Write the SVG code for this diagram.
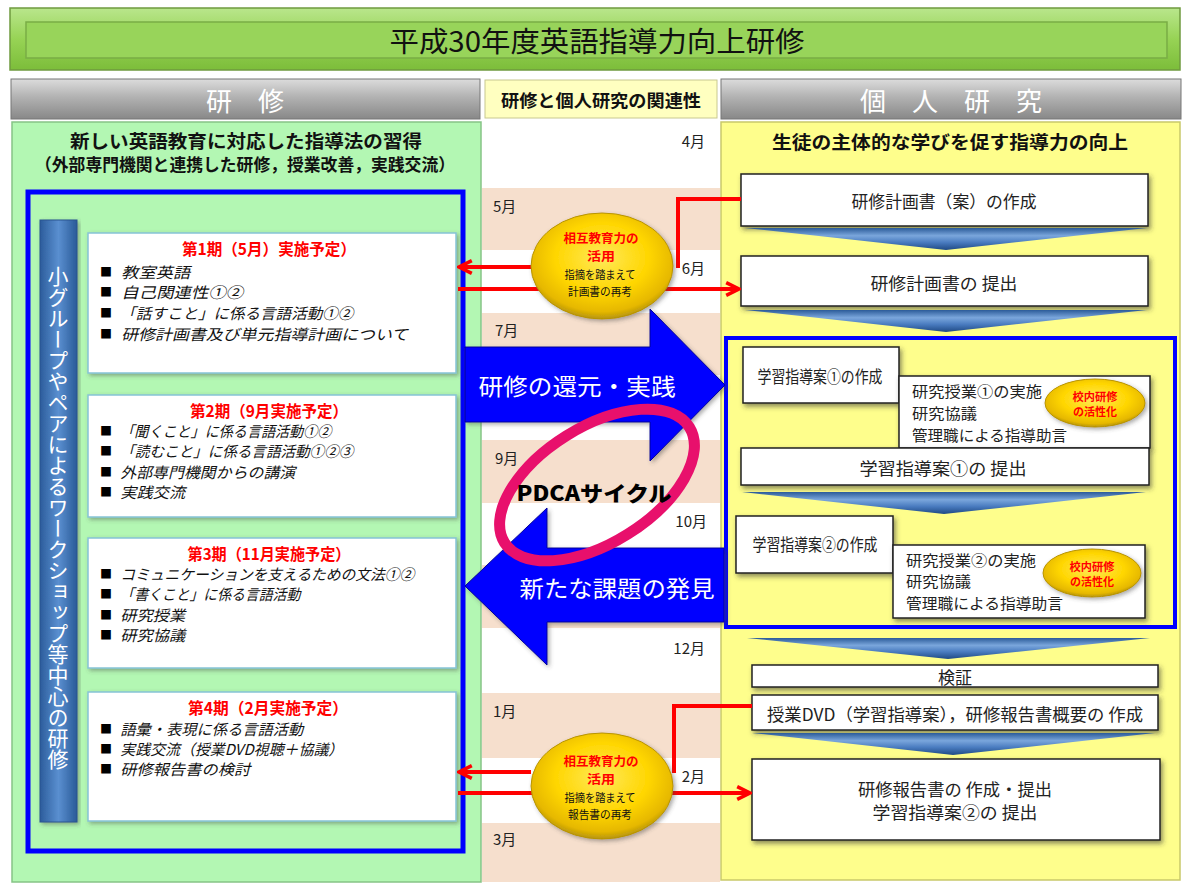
<svg xmlns="http://www.w3.org/2000/svg" width="1184" height="885" viewBox="0 0 1184 885">
<defs>
<style>
text{font-family:"Noto Sans CJK JP","Noto Sans CJK SC",sans-serif;dominant-baseline:central;}
.box{fill:#fff;stroke:#222;stroke-width:1.5;filter:url(#sh);}
.blk{fill:#fff;stroke:#86c3d6;stroke-width:1.5;filter:url(#sh2);}
.item{font-size:15px;fill:#111;}
.bul{font-size:12px;fill:#000;}
.bt{font-size:16px;font-weight:bold;fill:#ff0000;text-anchor:middle;}
.mon{font-size:15px;fill:#222;}
.monr{font-size:15px;fill:#222;text-anchor:end;}
.bx{font-size:17px;fill:#222;text-anchor:middle;}
.bxl{font-size:15px;fill:#222;}
.red{stroke:#ff0000;stroke-width:4;fill:none;}
.chev{fill:url(#chevG);}
.peach{fill:#f6dfcd;}
.ell{fill:url(#goldG);stroke:#b89400;stroke-width:1;filter:url(#sh2);}
.er{font-weight:bold;fill:#ff0000;text-anchor:middle;}
.ek{fill:#111;text-anchor:middle;}
</style>
<linearGradient id="greenG" x1="0" y1="0" x2="0" y2="1">
<stop offset="0" stop-color="#b9e68c"/><stop offset="0.5" stop-color="#97d355"/><stop offset="1" stop-color="#7cbd3a"/>
</linearGradient>
<linearGradient id="grayG" x1="0" y1="0" x2="0" y2="1">
<stop offset="0" stop-color="#dcdcdc"/><stop offset="0.45" stop-color="#b2b2b2"/><stop offset="1" stop-color="#888"/>
</linearGradient>
<linearGradient id="barG" x1="0" y1="0" x2="1" y2="0">
<stop offset="0" stop-color="#2c5d9c"/><stop offset="0.5" stop-color="#5a8fd0"/><stop offset="1" stop-color="#2a5a98"/>
</linearGradient>
<linearGradient id="chevG" x1="0" y1="0" x2="0" y2="1">
<stop offset="0" stop-color="#2b5b99"/><stop offset="0.35" stop-color="#7aa6dc"/><stop offset="0.65" stop-color="#4a7cc0"/><stop offset="1" stop-color="#1f4a85"/>
</linearGradient>
<radialGradient id="goldG" cx="0.5" cy="0.42" r="0.6">
<stop offset="0" stop-color="#ffe95a"/><stop offset="0.55" stop-color="#ffd600"/><stop offset="0.85" stop-color="#e6b800"/><stop offset="1" stop-color="#a88a10"/>
</radialGradient>
<filter id="sh" x="-10%" y="-20%" width="120%" height="150%">
<feDropShadow dx="2" dy="3" stdDeviation="2.5" flood-color="#333" flood-opacity="0.55"/>
</filter>
<filter id="sh2" x="-10%" y="-20%" width="120%" height="150%">
<feDropShadow dx="2" dy="2" stdDeviation="2" flood-color="#444" flood-opacity="0.45"/>
</filter>
<marker id="ah" viewBox="0 0 10 10" refX="9" refY="5" markerWidth="4" markerHeight="4" orient="auto" markerUnits="strokeWidth">
<path d="M1,1 L9,5 L1,9" fill="none" stroke="#ff0000" stroke-width="2.2"/>
</marker>
</defs>

<rect width="1184" height="885" fill="#fff"/>

<g id="title">
<rect x="10" y="8" width="1170" height="62" fill="url(#greenG)" stroke="#6f9a3f" stroke-width="1.5"/>
<rect x="26" y="22" width="1141" height="36" fill="#98d45a" stroke="#79ad45" stroke-width="1.5"/>
<text x="597" y="40" font-size="28" text-anchor="middle" fill="#111" textLength="415" lengthAdjust="spacingAndGlyphs">平成30年度英語指導力向上研修</text>
</g>

<g id="header-left">
<rect x="11" y="79" width="469" height="40" fill="url(#grayG)" stroke="#777" stroke-width="1"/>
<text x="245" y="99" font-size="26" text-anchor="middle" fill="#fff">研　修</text>
</g>
<g id="header-mid">
<rect x="485" y="80" width="232" height="38" fill="#ffffc0" stroke="#c8c890" stroke-width="1"/>
<text x="601" y="99" font-size="17" font-weight="bold" text-anchor="middle" fill="#111" textLength="200" lengthAdjust="spacingAndGlyphs">研修と個人研究の関連性</text>
</g>
<g id="header-right">
<rect x="721" y="79" width="460" height="40" fill="url(#grayG)" stroke="#777" stroke-width="1"/>
<text x="951" y="99" font-size="26" text-anchor="middle" fill="#fff">個　人　研　究</text>
</g>

<g id="timeline">
<rect x="482" y="122" width="238" height="760" fill="#fff"/>
<rect class="peach" x="482" y="188" width="238" height="62"/>
<rect class="peach" x="482" y="313" width="238" height="62"/>
<rect class="peach" x="482" y="440" width="238" height="63"/>
<rect class="peach" x="482" y="565" width="238" height="63"/>
<rect class="peach" x="482" y="693" width="238" height="65"/>
<rect class="peach" x="482" y="823" width="238" height="59"/>
<text class="monr" x="705" y="140">4月</text>
<text class="mon" x="493" y="205">5月</text>
<text class="monr" x="705" y="267">6月</text>
<text class="mon" x="495" y="329">7月</text>
<text class="mon" x="495" y="457">9月</text>
<text class="monr" x="707" y="520">10月</text>
<text class="monr" x="705" y="647">12月</text>
<text class="mon" x="493" y="710">1月</text>
<text class="monr" x="705" y="775">2月</text>
<text class="mon" x="493" y="838">3月</text>
</g>

<g id="panel-left">
<rect x="12" y="122" width="469" height="760" fill="#b3f7b3" stroke="#86c486" stroke-width="1.5"/>
<text x="246" y="140" font-size="18" font-weight="bold" text-anchor="middle" fill="#111" textLength="352" lengthAdjust="spacingAndGlyphs">新しい英語教育に対応した指導法の習得</text>
<text x="245" y="163" font-size="17" font-weight="bold" text-anchor="middle" fill="#111" textLength="420" lengthAdjust="spacingAndGlyphs">（外部専門機関と連携した研修，授業改善，実践交流）</text>
<rect x="28" y="192" width="435" height="659" fill="none" stroke="#0000ff" stroke-width="5"/>
</g>

<g id="side-bar">
<rect x="40" y="220" width="37" height="602" fill="url(#barG)" stroke="#2a5590" stroke-width="1" filter="url(#sh2)"/>
<text x="58" y="266" font-size="21" fill="#fff" style="writing-mode:vertical-rl">小グループやペアによるワークショップ等中心の研修</text>
</g>

<g id="block1">
<rect class="blk" x="88" y="233" width="368" height="140"/>
<text class="bt" x="269" y="248" textLength="174" lengthAdjust="spacingAndGlyphs">第1期（5月）実施予定）</text>
<text class="bul" x="100" y="271">■</text><text class="item" transform="translate(123,271) skewX(-14)" textLength="69" lengthAdjust="spacingAndGlyphs">教室英語</text>
<text class="bul" x="100" y="291">■</text><text class="item" transform="translate(123,291) skewX(-14)" textLength="122" lengthAdjust="spacingAndGlyphs">自己関連性①②</text>
<text class="bul" x="100" y="312">■</text><text class="item" transform="translate(122,312) skewX(-14)" textLength="233" lengthAdjust="spacingAndGlyphs">「話すこと」に係る言語活動①②</text>
<text class="bul" x="100" y="333">■</text><text class="item" transform="translate(123,333) skewX(-14)" textLength="287" lengthAdjust="spacingAndGlyphs">研修計画書及び単元指導計画について</text>
</g>

<g id="block2">
<rect class="blk" x="88" y="395" width="368" height="122"/>
<text class="bt" x="269" y="410" textLength="158" lengthAdjust="spacingAndGlyphs">第2期（9月実施予定）</text>
<text class="bul" x="100" y="430">■</text><text class="item" transform="translate(122,430) skewX(-14)" textLength="211" lengthAdjust="spacingAndGlyphs">「聞くこと」に係る言語活動①②</text>
<text class="bul" x="100" y="450">■</text><text class="item" transform="translate(122,450) skewX(-14)" textLength="233" lengthAdjust="spacingAndGlyphs">「読むこと」に係る言語活動①②③</text>
<text class="bul" x="100" y="471">■</text><text class="item" transform="translate(122,471) skewX(-14)" textLength="175" lengthAdjust="spacingAndGlyphs">外部専門機関からの講演</text>
<text class="bul" x="100" y="491">■</text><text class="item" transform="translate(122,491) skewX(-14)" textLength="65" lengthAdjust="spacingAndGlyphs">実践交流</text>
</g>

<g id="block3">
<rect class="blk" x="88" y="538" width="368" height="130"/>
<text class="bt" x="269" y="553" textLength="163" lengthAdjust="spacingAndGlyphs">第3期（11月実施予定）</text>
<text class="bul" x="100" y="573">■</text><text class="item" transform="translate(122,573) skewX(-14)" textLength="294" lengthAdjust="spacingAndGlyphs">コミュニケーションを支えるための文法①②</text>
<text class="bul" x="100" y="593">■</text><text class="item" transform="translate(122,593) skewX(-14)" textLength="180" lengthAdjust="spacingAndGlyphs">「書くこと」に係る言語活動</text>
<text class="bul" x="100" y="614">■</text><text class="item" transform="translate(122,614) skewX(-14)" textLength="65" lengthAdjust="spacingAndGlyphs">研究授業</text>
<text class="bul" x="100" y="634">■</text><text class="item" transform="translate(122,634) skewX(-14)" textLength="65" lengthAdjust="spacingAndGlyphs">研究協議</text>
</g>

<g id="block4">
<rect class="blk" x="88" y="692" width="368" height="129"/>
<text class="bt" x="268" y="707" textLength="160" lengthAdjust="spacingAndGlyphs">第4期（2月実施予定）</text>
<text class="bul" x="100" y="728">■</text><text class="item" transform="translate(122,728) skewX(-14)" textLength="183" lengthAdjust="spacingAndGlyphs">語彙・表現に係る言語活動</text>
<text class="bul" x="100" y="748">■</text><text class="item" transform="translate(122,748) skewX(-14)" textLength="223" lengthAdjust="spacingAndGlyphs">実践交流（授業DVD視聴＋協議）</text>
<text class="bul" x="100" y="768">■</text><text class="item" transform="translate(122,768) skewX(-14)" textLength="130" lengthAdjust="spacingAndGlyphs">研修報告書の検討</text>
</g>

<g id="panel-right">
<rect x="721" y="122" width="459" height="758" fill="#fefe8c" stroke="#c9c96a" stroke-width="1.5"/>
<text x="950" y="141" font-size="18" font-weight="bold" text-anchor="middle" fill="#111" textLength="356" lengthAdjust="spacingAndGlyphs">生徒の主体的な学びを促す指導力の向上</text>
<rect x="726" y="338" width="449" height="289" fill="none" stroke="#0000ff" stroke-width="4"/>
</g>

<g id="plan-draft">
<rect class="box" x="741" y="174" width="407" height="52"/>
<text class="bx" x="944" y="200" textLength="185" lengthAdjust="spacingAndGlyphs">研修計画書（案）の作成</text>
</g>
<g id="plan-submit">
<rect class="box" x="741" y="256" width="407" height="50"/>
<text class="bx" x="944" y="282" textLength="147" lengthAdjust="spacingAndGlyphs">研修計画書の 提出</text>
</g>
<g id="lesson1-make">
<rect class="box" x="743" y="347" width="156" height="56"/>
<text class="bx" x="820" y="375" font-size="16" textLength="125" lengthAdjust="spacingAndGlyphs">学習指導案①の作成</text>
</g>
<g id="lesson1-research">
<rect class="box" x="899" y="376" width="251" height="72"/>
<text class="bxl" x="912" y="390" textLength="130" lengthAdjust="spacingAndGlyphs">研究授業①の実施</text>
<text class="bxl" x="912" y="412" textLength="65" lengthAdjust="spacingAndGlyphs">研究協議</text>
<text class="bxl" x="912" y="434" textLength="155" lengthAdjust="spacingAndGlyphs">管理職による指導助言</text>
</g>
<g id="lesson1-submit">
<rect class="box" x="741" y="448" width="408" height="37"/>
<text class="bx" x="943" y="467" textLength="167" lengthAdjust="spacingAndGlyphs">学習指導案①の 提出</text>
</g>
<g id="lesson2-make">
<rect class="box" x="736" y="516" width="157" height="57"/>
<text class="bx" x="815" y="543" font-size="16" textLength="125" lengthAdjust="spacingAndGlyphs">学習指導案②の作成</text>
</g>
<g id="lesson2-research">
<rect class="box" x="893" y="545" width="252" height="73"/>
<text class="bxl" x="906" y="559" textLength="130" lengthAdjust="spacingAndGlyphs">研究授業②の実施</text>
<text class="bxl" x="906" y="580" textLength="65" lengthAdjust="spacingAndGlyphs">研究協議</text>
<text class="bxl" x="906" y="602" textLength="157" lengthAdjust="spacingAndGlyphs">管理職による指導助言</text>
</g>
<g id="verify">
<rect class="box" x="752" y="665" width="406" height="22"/>
<text class="bx" x="955" y="676">検証</text>
</g>
<g id="dvd">
<rect class="box" x="752" y="695" width="406" height="35"/>
<text class="bx" x="955" y="713" textLength="376" lengthAdjust="spacingAndGlyphs">授業DVD（学習指導案），研修報告書概要の 作成</text>
</g>
<g id="report">
<rect class="box" x="752" y="759" width="408" height="81"/>
<text class="bx" x="955" y="788" textLength="194" lengthAdjust="spacingAndGlyphs">研修報告書の 作成・提出</text>
<text class="bx" x="955" y="811" textLength="165" lengthAdjust="spacingAndGlyphs">学習指導案②の 提出</text>
</g>

<g id="school-ellipse1">
<ellipse class="ell" cx="1095" cy="403" rx="50" ry="24"/>
<text class="er" x="1095" y="396" font-size="11" textLength="45" lengthAdjust="spacingAndGlyphs">校内研修</text>
<text class="er" x="1095" y="411" font-size="11" textLength="44" lengthAdjust="spacingAndGlyphs">の活性化</text>
</g>
<g id="school-ellipse2">
<ellipse class="ell" cx="1092" cy="573" rx="49" ry="24"/>
<text class="er" x="1092" y="566" font-size="11" textLength="45" lengthAdjust="spacingAndGlyphs">校内研修</text>
<text class="er" x="1092" y="581" font-size="11" textLength="44" lengthAdjust="spacingAndGlyphs">の活性化</text>
</g>

<g id="arrow-practice">
<polygon points="465,347 650,347 650,309 725,385 650,461 650,422 465,422" fill="#0000ff" stroke="#00009a" stroke-width="1" filter="url(#sh2)"/>
<text x="577" y="385" font-size="23" fill="#fff" text-anchor="middle" textLength="197" lengthAdjust="spacingAndGlyphs">研修の還元・実践</text>
</g>
<g id="arrow-discover">
<polygon points="724,548 547,548 547,508 465,586 547,665 547,622 724,622" fill="#0000ff" stroke="#00009a" stroke-width="1" filter="url(#sh2)"/>
<text x="617" y="587" font-size="23" fill="#fff" text-anchor="middle" textLength="195" lengthAdjust="spacingAndGlyphs">新たな課題の発見</text>
</g>
<g id="pdca">
<ellipse cx="597" cy="485" rx="109" ry="58" transform="rotate(-32 597 485)" fill="none" stroke="#e8106c" stroke-width="11"/>
<text x="594" y="492" font-size="21" font-weight="900" fill="#000" text-anchor="middle" textLength="155" lengthAdjust="spacingAndGlyphs">PDCAサイクル</text>
</g>

<g id="connectors">
<path class="chev" d="M745,228 L1147,228 L946,250 Z"/>
<path class="chev" d="M745,310 L1147,310 L946,332 Z"/>
<path class="chev" d="M742,492 L1146,492 L944,514 Z"/>
<path class="chev" d="M747,638 L1150,638 L948,659 Z"/>
<path class="chev" d="M752,733 L1155,733 L953,755 Z"/>
<path class="red" d="M741,199 H678 V268"/>
<path class="red" d="M531,267 H459" marker-end="url(#ah)"/>
<path class="red" d="M458,289 H739" marker-end="url(#ah)"/>
<path class="red" d="M752,706 H674 V773"/>
<path class="red" d="M531,772 H459" marker-end="url(#ah)"/>
<path class="red" d="M458,793 H750" marker-end="url(#ah)"/>
</g>

<g id="mutual1">
<ellipse class="ell" cx="602" cy="266" rx="71" ry="53"/>
<text class="er" x="601" y="238" font-size="12.3" textLength="75" lengthAdjust="spacingAndGlyphs">相互教育力の</text>
<text class="er" x="601" y="256" font-size="12.3" textLength="28" lengthAdjust="spacingAndGlyphs">活用</text>
<text class="ek" x="600" y="274" font-size="11.5" textLength="71" lengthAdjust="spacingAndGlyphs">指摘を踏まえて</text>
<text class="ek" x="600" y="291" font-size="11.5" textLength="64" lengthAdjust="spacingAndGlyphs">計画書の再考</text>
</g>
<g id="mutual2">
<ellipse class="ell" cx="602" cy="786" rx="71" ry="53"/>
<text class="er" x="601" y="761" font-size="12.3" textLength="75" lengthAdjust="spacingAndGlyphs">相互教育力の</text>
<text class="er" x="601" y="779" font-size="12.3" textLength="28" lengthAdjust="spacingAndGlyphs">活用</text>
<text class="ek" x="600" y="797" font-size="11.5" textLength="71" lengthAdjust="spacingAndGlyphs">指摘を踏まえて</text>
<text class="ek" x="600" y="814" font-size="11.5" textLength="64" lengthAdjust="spacingAndGlyphs">報告書の再考</text>
</g>
</svg>
